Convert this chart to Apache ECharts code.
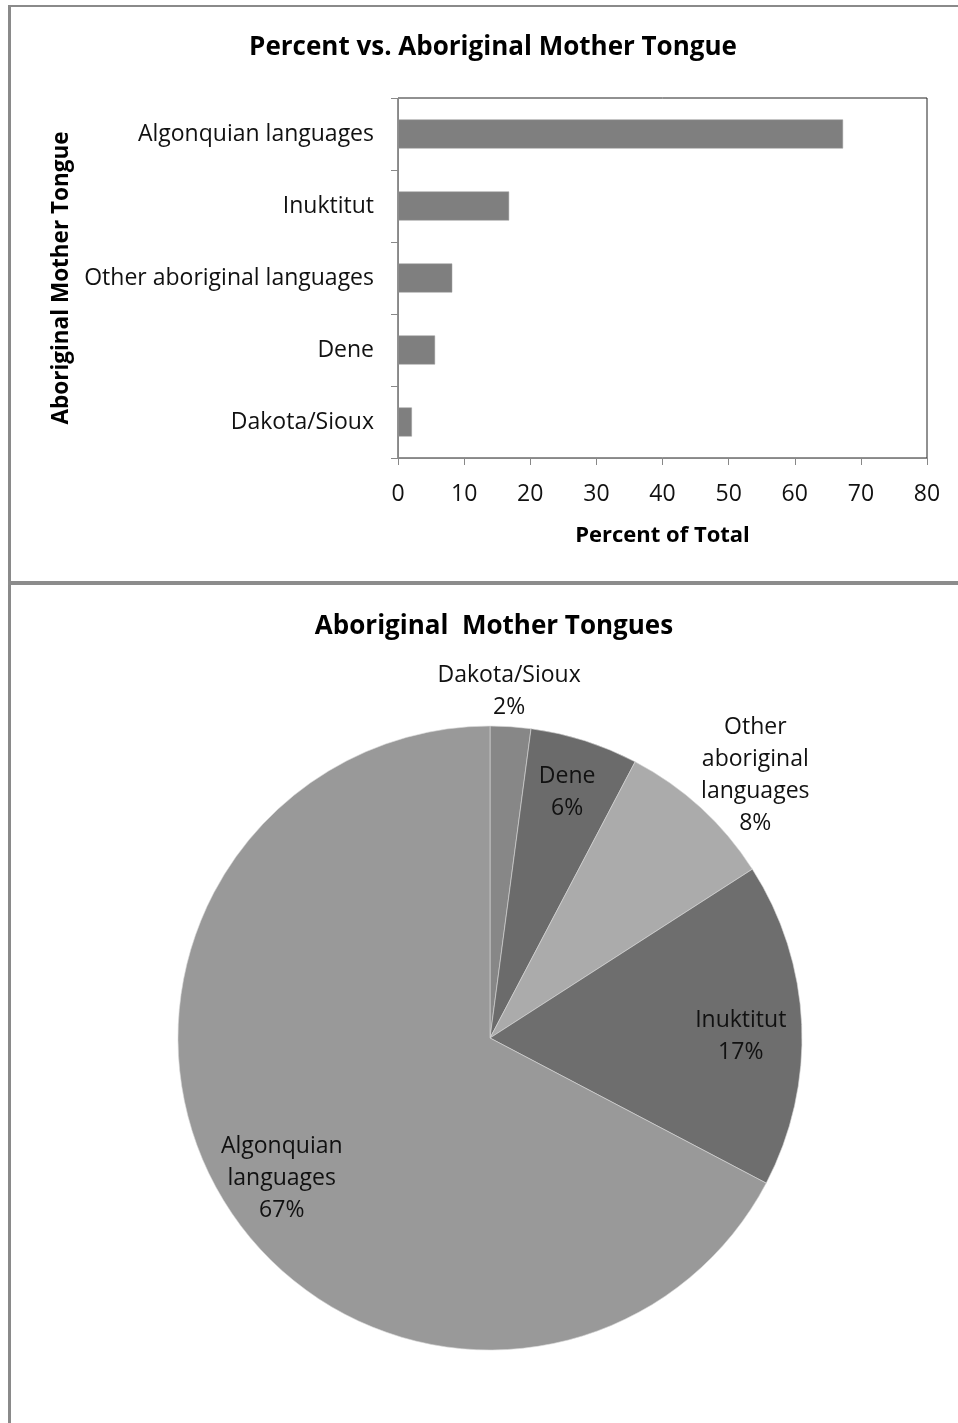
<!DOCTYPE html>
<html>
<head>
<meta charset="utf-8">
<script src="https://cdn.jsdelivr.net/npm/echarts@6/dist/echarts.min.js"></script>
<style>
  html, body { margin: 0; padding: 0; background: #fff; }
  #main { width: 958px; height: 1423px; }
</style>
</head>
<body>
<div id="main"></div>
<script>
// data
const categories = ["Algonquian languages", "Inuktitut", "Other aboriginal languages", "Dene", "Dakota/Sioux"];
const percents = [67.3, 16.8, 8.2, 5.6, 2.1];
const xTicks = [0, 10, 20, 30, 40, 50, 60, 70, 80];
// pie labels (wrapped like the original), how far from the centre they sit, small nudges
const pieNames = ["Algonquian\nlanguages", "Inuktitut", "Other\naboriginal\nlanguages", "Dene", "Dakota/Sioux"];
const pieLabelRadius = [252, 252, 378, 258, 348];
const pieLabelNudge = [[10, 9], [-4, 10], [8, 18], [-2, 3], [-4, 4]];
const sliceColors = ["#999999", "#6e6e6e", "#ababab", "#6b6b6b", "#878787"];

const FONT = "Open Sans";
const CENTER = [490, 1038];
const R = 312;
const chart = echarts.init(document.getElementById("main"));

// pie goes clockwise from 12 o'clock starting at the smallest slice
const order = [4, 3, 2, 1, 0];
function pieData(only) {
  return order.map(function (i) {
    const item = { name: categories[i], value: percents[i] };
    if (only === undefined) {
      item.itemStyle = { color: sliceColors[i] };
    } else {
      item.itemStyle = { color: "rgba(0,0,0,0)" };
      item.label = { show: i === only, offset: pieLabelNudge[i] };
    }
    return item;
  });
}
function pieLabelText(p) {
  const i = categories.indexOf(p.name);
  return pieNames[i] + "\n" + Math.round(p.percent) + "%";
}

// one invisible ring per label, so each label sits in the middle of its own ring
const labelSeries = categories.map(function (c, i) {
  const mid = pieLabelRadius[i];
  return {
    type: "pie",
    center: CENTER,
    radius: [mid - 60, mid + 60],
    startAngle: 90,
    clockwise: true,
    silent: true,
    z: 3,
    label: {
      position: "inside",
      formatter: pieLabelText,
      color: "#111",
      fontFamily: FONT,
      fontSize: 23,
      lineHeight: 32,
      align: "center"
    },
    labelLine: { show: false },
    data: pieData(i)
  };
});

chart.setOption({
  animation: false,
  textStyle: { fontFamily: FONT },
  title: [
    {
      text: "Percent vs. Aboriginal Mother Tongue",
      left: 488, top: 30, textAlign: "center",
      textStyle: { fontSize: 26, fontWeight: "bold", color: "#000", fontFamily: FONT }
    },
    {
      text: "Aboriginal  Mother Tongues",
      left: 489, top: 609, textAlign: "center",
      textStyle: { fontSize: 26, fontWeight: "bold", color: "#000", fontFamily: FONT }
    }
  ],
  graphic: [
    // outer frame lines of the two panels
    { type: "rect", shape: { x: 8, y: 5, width: 950, height: 2 }, style: { fill: "#8a8a8a" } },
    { type: "rect", shape: { x: 8, y: 5, width: 3, height: 1418 }, style: { fill: "#8a8a8a" } },
    { type: "rect", shape: { x: 8, y: 581, width: 950, height: 4 }, style: { fill: "#8c8c8c" } }
  ],
  grid: {
    left: 398, top: 98, width: 529, height: 360,
    show: true, borderColor: "#222", borderWidth: 1, backgroundColor: "transparent"
  },
  xAxis: {
    type: "value",
    min: 0, max: 80, interval: 10,
    name: "Percent of Total",
    nameLocation: "middle",
    nameGap: 67,
    nameTextStyle: { fontSize: 22, fontWeight: "bold", color: "#000", fontFamily: FONT },
    axisLine: { show: true, lineStyle: { color: "#888", width: 1 } },
    axisTick: { show: true, length: 7, lineStyle: { color: "#888" } },
    splitLine: { show: false },
    axisLabel: {
      margin: 25, fontSize: 23, color: "#111", fontFamily: FONT,
      formatter: function (v) { return xTicks.indexOf(v) >= 0 ? String(v) : ""; }
    }
  },
  yAxis: {
    type: "category",
    data: categories,
    inverse: true,
    name: "Aboriginal Mother Tongue",
    nameLocation: "middle",
    nameGap: 325,
    nameRotate: 90,
    nameTextStyle: { fontSize: 22.5, fontWeight: "bold", color: "#000", fontFamily: FONT },
    axisLine: { show: true, lineStyle: { color: "#888", width: 1 } },
    axisTick: { show: true, length: 7, alignWithLabel: false, lineStyle: { color: "#888" } },
    axisLabel: { margin: 24, fontSize: 23, color: "#111", fontFamily: FONT }
  },
  series: [
    {
      type: "bar",
      data: percents,
      barWidth: 29,
      itemStyle: { color: "#7f7f7f", borderColor: "#9a9a9a", borderWidth: 0.5 },
      silent: true
    },
    {
      type: "pie",
      center: CENTER,
      radius: R,
      startAngle: 90,
      clockwise: true,
      silent: true,
      label: { show: false },
      labelLine: { show: false },
      itemStyle: { borderColor: "#d8d8d8", borderWidth: 0.6 },
      data: pieData()
    }
  ].concat(labelSeries)
});
</script>
</body>
</html>
